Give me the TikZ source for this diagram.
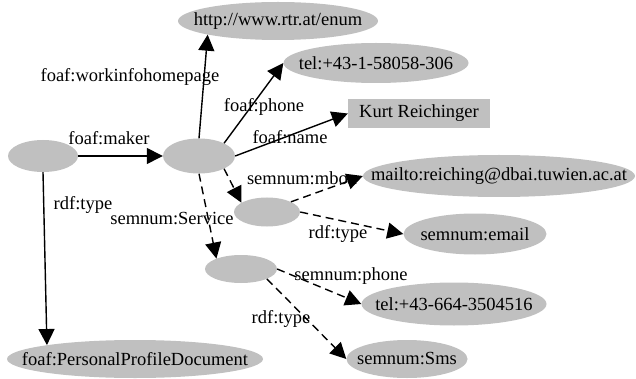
\documentclass[tikz,border=0pt]{standalone}
\usepackage{fontspec}
\setmainfont{Liberation Serif}
\usetikzlibrary{shapes.geometric,arrows.meta}
\definecolor{ngray}{RGB}{192,192,192}
\newcommand\ztext[1]{\makebox[0pt]{#1}}
\tikzset{
  every node/.style={font=\fontsize{18.5}{22}\selectfont},
  res/.style={ellipse, fill=ngray, inner sep=0pt},
  lit/.style={rectangle, fill=ngray, inner sep=0pt},
  lbl/.style={inner sep=0pt},
  rel/.style={-{Triangle[length=16pt,width=16pt]}, line width=1.4pt},
  relopt/.style={rel, dash pattern=on 8pt off 5pt},
}
\begin{document}
\begin{tikzpicture}[x=1pt,y=-1pt]
\useasboundingbox (0,0) rectangle (636,379);
% nodes
\node[res, minimum width=200pt, minimum height=38pt] (url) at (278,21) {\ztext{http://www.rtr.at/enum}};
\node[res, minimum width=185pt, minimum height=40pt] (tel1) at (376,63) {\ztext{tel:+43-1-58058-306}};
\node[lit, minimum width=142pt, minimum height=29pt] (kurt) at (419,113.5) {Kurt Reichinger};
\node[res, minimum width=272pt, minimum height=42pt] (mailto) at (499,176) {\ztext{mailto:reiching@dbai.tuwien.ac.at}};
\node[res, minimum width=70pt, minimum height=32pt] (b1) at (43,156) {};
\node[res, minimum width=72pt, minimum height=35pt] (b2) at (199,156) {};
\node[res, minimum width=66pt, minimum height=29pt] (b3) at (267,212) {};
\node[res, minimum width=72pt, minimum height=28pt] (b4) at (241,269) {};
\node[res, minimum width=143pt, minimum height=41pt] (email) at (475,234) {\ztext{semnum:email}};
\node[res, minimum width=185pt, minimum height=43pt] (tel2) at (454,304) {\ztext{tel:+43-664-3504516}};
\node[res, minimum width=121pt, minimum height=38pt] (sms) at (407,359) {\ztext{semnum:Sms}};
\node[res, minimum width=256pt, minimum height=38pt] (ppd) at (135,359) {\ztext{foaf:PersonalProfileDocument}};
% edges
\draw[rel] (b1) -- (b2);
\draw[rel] (b1.south) -- (ppd.171.8);
\draw[rel] (b2.north) -- (url.191);
\draw[rel] (b2.27) -- (tel1.west);
\draw[rel] (b2.east) -- (kurt.west);
\draw[relopt] (b2.-27) -- (b3.160);
\draw[relopt] (b3.23) -- (mailto.west);
\draw[relopt] (b3.east) -- (email.west);
\draw[relopt] (b2.south) -- (b4.157);
\draw[relopt] (b4.east) -- (tel2.west);
\draw[relopt] (b4.-21) -- (sms.west);
% labels
\node[lbl] (lmaker) at (109,138) {foaf:maker};
\node[lbl] (ltype1) at (83,205) {rdf:type};
\node[lbl] (lhome) at (130,77) {foaf:workinfohomepage};
\node[lbl] (lphone) at (264,107) {foaf:phone};
\node[lbl] (lname) at (290,137) {foaf:name};
\node[lbl] (lmbox) at (302,178) {semnum:mbox};
\node[lbl] (lserv) at (172,219) {semnum:Service};
\node[lbl] (ltype2) at (338,234) {rdf:type};
\node[lbl] (lsphone) at (351,276) {semnum:phone};
\node[lbl] (ltype3) at (281,319) {rdf:type};
\end{tikzpicture}
\end{document}
